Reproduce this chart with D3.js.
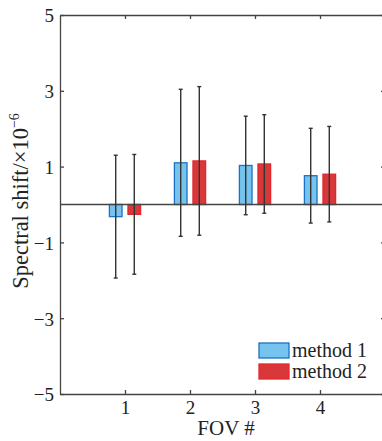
<!DOCTYPE html>
<html lang="en">
<head>
    <meta charset="UTF-8">
    <title>Spectral shift per FOV</title>
    <script src="https://d3js.org/d3.v7.min.js"></script>
    <style>
        body { margin: 0; background: #fff; }
        svg { display: block; }
        svg text { font-family: 'Liberation Serif', 'Times New Roman', Times, serif !important; fill: #222; }
        .axis path, .axis line { stroke: #444; stroke-width: 1.3px; }
        .axis text { font-size: 19px; }
    </style>
</head>
<body>

    <svg width="382" height="441"></svg>

    <script>
        // data
        const fovs = [1, 2, 3, 4];
        const series = ['method 1', 'method 2'];
        const method1 = [-0.32, 1.10, 1.03, 0.76];
        const method1Err = [1.62, 1.94, 1.30, 1.25];
        const method2 = [-0.26, 1.15, 1.07, 0.80];
        const method2Err = [1.58, 1.96, 1.30, 1.26];
        const yTicks = [-5, -3, -1, 1, 3, 5];

        const fills = ['#76c4ee', '#d8383a'];
        const strokes = ['#1b72c6', '#e3282c'];

        const svg = d3.select('svg');
        const margin = { left: 60, top: 15, right: -3, bottom: 47 };
        const width = 382 - margin.left - margin.right;
        const height = 441 - margin.top - margin.bottom;

        const g = svg.append('g').attr('transform', `translate(${margin.left},${margin.top})`);

        const x = d3.scaleLinear().domain([0, 5]).range([0, width]);
        const y = d3.scaleLinear().domain([-5, 5]).range([height, 0]);
        // offset of each method inside a FOV group (pixels)
        const xSub = d3.scaleBand().domain(series).range([-15.6, 15.6]).paddingInner(0.32);

        const rows = [];
        fovs.forEach((f, i) => {
            rows.push({ fov: f, s: 0, v: method1[i], e: method1Err[i] });
            rows.push({ fov: f, s: 1, v: method2[i], e: method2Err[i] });
        });

        // bars
        g.selectAll('.bar')
            .data(rows)
            .enter().append('rect')
            .attr('class', 'bar')
            .attr('x', d => x(d.fov) + xSub(series[d.s]))
            .attr('width', xSub.bandwidth())
            .attr('y', d => y(Math.max(0, d.v)))
            .attr('height', d => Math.abs(y(d.v) - y(0)))
            .attr('fill', d => fills[d.s])
            .attr('stroke', d => strokes[d.s])
            .attr('stroke-width', 1.3);

        // zero line
        g.append('line')
            .attr('x1', 0).attr('x2', width)
            .attr('y1', y(0)).attr('y2', y(0))
            .attr('stroke', '#444').attr('stroke-width', 1.5);

        // error bars
        const eb = g.selectAll('.err')
            .data(rows)
            .enter().append('g')
            .attr('class', 'err')
            .attr('transform', d => `translate(${x(d.fov) + xSub(series[d.s]) + xSub.bandwidth() / 2},0)`)
            .attr('stroke', '#333').attr('stroke-width', 1.4);
        eb.append('line')
            .attr('y1', d => y(d.v + d.e)).attr('y2', d => y(d.v - d.e));
        eb.append('line')
            .attr('x1', -2).attr('x2', 2)
            .attr('y1', d => y(d.v + d.e)).attr('y2', d => y(d.v + d.e));
        eb.append('line')
            .attr('x1', -2).attr('x2', 2)
            .attr('y1', d => y(d.v - d.e)).attr('y2', d => y(d.v - d.e));

        // axes, ticks pointing inward
        g.append('g').attr('class', 'axis')
            .attr('transform', `translate(0,${height})`)
            .call(d3.axisBottom(x).tickValues(fovs).tickFormat(d3.format('d'))
                .tickSize(-4).tickPadding(7).tickSizeOuter(0));
        g.append('g').attr('class', 'axis')
            .call(d3.axisTop(x).tickValues(fovs).tickSize(-4).tickFormat('').tickSizeOuter(0));
        g.append('g').attr('class', 'axis')
            .call(d3.axisLeft(y).tickValues(yTicks).tickFormat(d3.format('d'))
                .tickSize(-4).tickPadding(6).tickSizeOuter(0))
            .selectAll('text').attr('dy', '0.36em');
        g.append('g').attr('class', 'axis')
            .attr('transform', `translate(${width},0)`)
            .call(d3.axisRight(y).tickValues(yTicks).tickSize(-4).tickFormat('').tickSizeOuter(0));

        // axis labels
        svg.append('text')
            .attr('x', 226).attr('y', 435)
            .attr('text-anchor', 'middle')
            .style('font-size', '21px')
            .text('FOV #');

        const yl = svg.append('text')
            .attr('transform', 'translate(28,201) rotate(-90)')
            .attr('text-anchor', 'middle')
            .style('font-size', '22.5px');
        yl.append('tspan').text('Spectral shift/×10');
        yl.append('tspan').attr('dy', -9).style('font-size', '14px').text('−6');

        // legend
        const lg = svg.append('g').attr('transform', 'translate(259,343)');
        const li = lg.selectAll('g')
            .data(series)
            .enter().append('g')
            .attr('transform', (d, i) => `translate(0,${i * 21})`);
        li.append('rect')
            .attr('width', 30).attr('height', 15)
            .attr('fill', (d, i) => fills[i])
            .attr('stroke', (d, i) => strokes[i])
            .attr('stroke-width', 1.3);
        li.append('text')
            .attr('x', 33).attr('y', 14)
            .style('font-size', '20px')
            .text(d => d);
    </script>
</body>
</html>
